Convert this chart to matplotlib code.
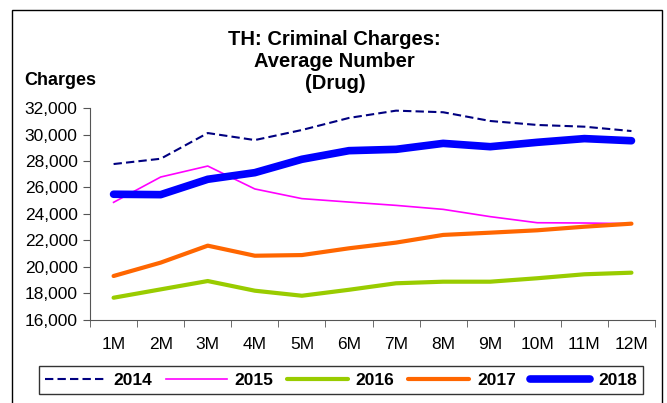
import matplotlib
matplotlib.use("Agg")
import matplotlib.pyplot as plt
from matplotlib.patches import Rectangle
from matplotlib.ticker import FuncFormatter

plt.rcParams['font.family'] = ['Liberation Sans', 'DejaVu Sans']

months = ['1M', '2M', '3M', '4M', '5M', '6M', '7M', '8M', '9M', '10M', '11M', '12M']
y2014 = [27770, 28170, 30110, 29580, 30340, 31250, 31800, 31680, 31020, 30720, 30590, 30260]
y2015 = [24880, 26790, 27620, 25890, 25160, 24900, 24650, 24350, 23800, 23340, 23320, 23270]
y2016 = [17680, 18310, 18940, 18210, 17830, 18280, 18770, 18890, 18890, 19150, 19450, 19570]
y2017 = [19320, 20330, 21610, 20850, 20900, 21410, 21840, 22420, 22590, 22770, 23040, 23270]
y2018 = [25490, 25460, 26620, 27120, 28130, 28780, 28880, 29330, 29080, 29410, 29690, 29530]
yticks = [16000, 18000, 20000, 22000, 24000, 26000, 28000, 30000, 32000]

fig = plt.figure(figsize=(6.67, 4.03), dpi=100)
ax = fig.add_axes([0.135, 0.206, 0.847, 0.526])

x = range(len(months))
ax.plot(x, y2014, color='#000080', lw=1.5, ls=(0, (4, 2)), label='2014')
ax.plot(x, y2015, color='#FF00FF', lw=1.2, label='2015')
ax.plot(x, y2016, color='#99CC00', lw=3, solid_capstyle='round', label='2016')
ax.plot(x, y2017, color='#FF6600', lw=3, solid_capstyle='round', label='2017')
ax.plot(x, y2018, color='#0000FF', lw=5.5, solid_capstyle='round', label='2018')

ax.set_xlim(-0.5, 11.5)
ax.set_ylim(16000, 32000)
ax.set_yticks(yticks)
ax.yaxis.set_major_formatter(FuncFormatter(lambda v, p: f'{int(v):,}'))
ax.set_xticks(list(x))
ax.set_xticklabels(months)
ax.set_xticks([i - 0.5 for i in range(13)], minor=True)
ax.tick_params(axis='x', which='major', length=0, pad=12, labelsize=12.5)
ax.tick_params(axis='x', which='minor', length=5, color='#555555')
ax.tick_params(axis='y', length=5, pad=4, labelsize=12.5, color='#555555')
for s in ['top', 'right']:
    ax.spines[s].set_visible(False)
for s in ['left', 'bottom']:
    ax.spines[s].set_color('#555555')

fig.text(0.502, 0.848, 'TH: Criminal Charges:\nAverage Number\n(Drug)', ha='center', va='center',
         fontsize=14.5, fontweight='bold', linespacing=1.2)
fig.text(0.037, 0.801, 'Charges', ha='left', va='center', fontsize=13, fontweight='bold')

leg = fig.legend(loc='center', bbox_to_anchor=(0.511, 0.057), ncol=5, frameon=True,
                 fancybox=False, edgecolor='black', handlelength=3.5, handletextpad=0.45,
                 columnspacing=0.8, prop={'weight': 'bold', 'size': 12.5}, borderpad=0.35)
leg.get_frame().set_linewidth(1.0)

# outer frame
fig.patches.append(Rectangle((12 / 667, -0.05), 650 / 667, 1.05 - 10 / 403, transform=fig.transFigure,
                             fill=False, edgecolor='black', lw=1.0))

fig.savefig('out.png', dpi=100)
